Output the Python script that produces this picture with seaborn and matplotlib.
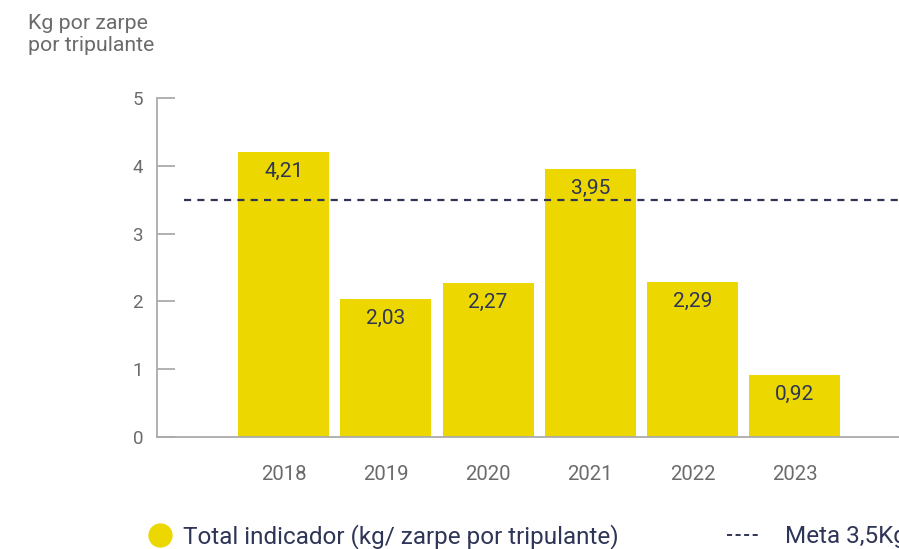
import matplotlib
matplotlib.use("Agg")
import matplotlib.pyplot as plt
from matplotlib.lines import Line2D
import seaborn as sns
import pandas as pd

years = ["2018", "2019", "2020", "2021", "2022", "2023"]
values = [4.21, 2.03, 2.27, 3.95, 2.29, 0.92]
labels = ["4,21", "2,03", "2,27", "3,95", "2,29", "0,92"]
target = 3.5
y_ticks = [0, 1, 2, 3, 4, 5]

BAR = "#ECD800"
NAVY = "#2E3556"
GRAY = "#6b6b6b"
SPINE = "#ababab"

sns.set_theme(style="white")
plt.rcParams['font.family'] = ['Roboto', 'DejaVu Sans']

fig = plt.figure(figsize=(8.99, 5.49), dpi=100)
W, H = 899, 549
ax = fig.add_axes([157 / W, (H - 437) / H, (W - 157) / W + 0.01, (437 - 98) / H])

df = pd.DataFrame({"year": years, "value": values})
sns.barplot(data=df, x="year", y="value", color=BAR, saturation=1, width=0.89, ax=ax, edgecolor="none")

ax.set_xlim(-1.24, 6.11)
ax.set_ylim(0, 5)
ax.set_yticks(y_ticks)
ax.set_xlabel("")
ax.set_ylabel("")

for sp in ["top", "right"]:
    ax.spines[sp].set_visible(False)
for sp in ["left", "bottom"]:
    ax.spines[sp].set_color(SPINE)
    ax.spines[sp].set_linewidth(1.3)

ax.tick_params(axis="y", direction="in", length=13, width=1.3, color=SPINE, pad=10,
               labelsize=13.5, labelcolor=GRAY, left=True)
ax.tick_params(axis="x", length=0, pad=20, labelsize=14.7, labelcolor=GRAY)

# target line
x0 = -0.98
ax.hlines(target, x0, 7, colors=NAVY, linestyles=(0, (3.2, 2.8)), linewidth=1.6, zorder=3)

# value labels
for i, (v, lab) in enumerate(zip(values, labels)):
    ax.annotate(lab, (i, v), xytext=(0, -14), textcoords="offset points",
                ha="center", va="center", fontsize=15, color=NAVY, zorder=4)

fig.text(28 / W, 1 - 14 / H, "Kg por zarpe\npor tripulante", ha="left", va="top",
         fontsize=15.3, color=GRAY, linespacing=1.2)

FS = 17.5
h1 = Line2D([], [], marker="o", linestyle="none", markersize=16.5, markerfacecolor=BAR,
            markeredgecolor=BAR, label="Total indicador (kg/ zarpe por tripulante)")
h2 = Line2D([], [], color=NAVY, linestyle=(0, (2.6, 1.8)), linewidth=1.4, label="Meta 3,5Kg")

leg1 = fig.legend(handles=[h1], loc="center left", bbox_to_anchor=(147.4 / W, 1 - 537 / H),
                  frameon=False, fontsize=FS, handlelength=1.0, handletextpad=0.46,
                  borderpad=0, borderaxespad=0)
leg2 = fig.legend(handles=[h2], loc="center left", bbox_to_anchor=(727 / W, 1 - 537 / H),
                  frameon=False, fontsize=FS, handlelength=1.36, handletextpad=1.03,
                  borderpad=0, borderaxespad=0)
for leg in (leg1, leg2):
    for t in leg.get_texts():
        t.set_color(NAVY)

fig.savefig("out.png", dpi=100)
